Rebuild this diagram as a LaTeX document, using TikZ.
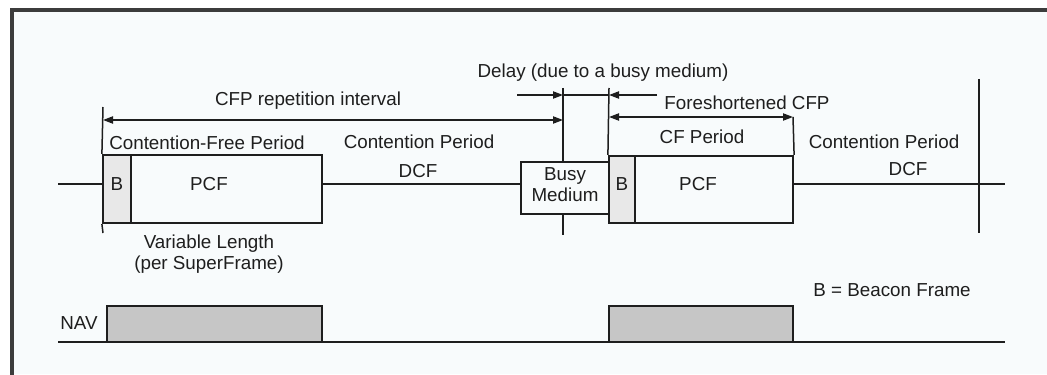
\documentclass[tikz,border=0pt]{standalone}
\usepackage{fontspec}
\setmainfont{Liberation Sans}
\usetikzlibrary{arrows.meta,positioning,fit}
\definecolor{ink}{HTML}{1E1E1E}
\definecolor{frameink}{HTML}{3C3C3C}
\definecolor{paper}{HTML}{F8FBFC}
\definecolor{beacon}{HTML}{E8E8E8}
\definecolor{navfill}{HTML}{C6C6C6}

\begin{document}
\begin{tikzpicture}[
    x=0.5pt,y=-0.5pt,
    >={Triangle[length=5pt,width=3.6pt]},
    font=\fontsize{9.4}{10.6}\selectfont,
    % --- frames on the time line ----------------------------------------
    slot/.style={draw=ink,line width=1.1pt,fill=paper,inner sep=0pt},
    bcn/.style={slot,fill=beacon},
    navbox/.style={draw=ink,line width=0.8pt,fill=navfill,inner sep=0pt},
    % --- lines and dimension arrows -------------------------------------
    tl/.style={draw=ink,line width=0.75pt},
    dim/.style={tl,<->},
    % --- labels ---------------------------------------------------------
    lbl/.style={text=ink,inner sep=0pt,align=center},
  ]

% =====================================================================
%  Canvas and outer frame (pixels of the reference, 1047 x 374)
% =====================================================================
\useasboundingbox (0,0) rectangle (1047,374);
\fill[white] (0,0) rectangle (1047,374);
\fill[paper] (12,10) rectangle (1047,374);
\draw[frameink,line width=1.6pt] (1060,10) -- (12,10) -- (12,390);

% ---- time line end points --------------------------------------------
\coordinate (w0) at (58,184);
\coordinate (w1) at (1005,184);

% =====================================================================
%  Frames: CFP, busy medium, foreshortened CFP
% =====================================================================
\node[bcn,fit={(103,155)(131,223)}] (b1) {};
\node[slot,fit={(131,155)(322,223)}] (pcf1) {};
\node[slot,fit={(521,162)(609,214)}] (busy) {};
\node[bcn,fit={(609,156)(635,223)}] (b2) {};
\node[slot,fit={(635,156)(793,223)}] (pcf2) {};

\node[lbl] at (117,184) {B};
\node[lbl] at (209,184) {PCF};
\node[lbl] (busytxt) at (565,185) {Busy\\Medium};
\node[lbl] at (622,184) {B};
\node[lbl] at (698,184) {PCF};

% ---- time line ---------------------------------------------------------
\draw[tl] (w0) -- (w0 -| b1.west);
\draw[tl] (pcf1.east |- w0) -- (busy.west |- w0);
\draw[tl] (pcf2.east |- w0) -- (w1);

% ---- vertical markers --------------------------------------------------
\coordinate (m0) at (103,107);
\coordinate (m1) at (103,233);
\draw[tl] (m0) -- (b1.north west);
\draw[tl] (b1.south west) -- (m1);

\coordinate (d0) at (563,88);
\coordinate (d1) at (563,235);
\draw[tl] (d0) -- (d0 |- busy.north);
\draw[tl] (d1 |- busy.south) -- (d1);

\coordinate (e0) at (609,88);
\draw[tl] (e0) -- (b2.north west);

\coordinate (f1) at (793,117);
\draw[tl] (f1) -- (pcf2.north east);

\coordinate (s0) at (979,79);
\coordinate (s1) at (979,233);
\draw[tl] (s0) -- (s1);

% =====================================================================
%  Intervals
% =====================================================================
\coordinate (rep0) at (103,120);
\coordinate (rep1) at (563,120);
\draw[dim] (rep0) -- (rep1);
\node[lbl] at (308,101) {CFP repetition interval};

\coordinate (dl0) at (517,95);
\coordinate (dl1) at (563,95);
\coordinate (dl2) at (609,95);
\coordinate (dl3) at (657,95);
\draw[tl,->] (dl0) -- (dl1);
\draw[tl] (dl1) -- (dl2);
\draw[tl,->] (dl3) -- (dl2);
\node[lbl] at (603,73) {Delay (due to a busy medium)};

\coordinate (fs0) at (609,117);
\draw[dim] (fs0) -- (f1);
\node[lbl] at (747,103) {Foreshortened CFP};

% ---- period labels -----------------------------------------------------
\node[lbl] at (207,143) {Contention-Free Period};
\node[lbl] at (419,142) {Contention Period};
\node[lbl] at (418,171) {DCF};
\node[lbl] at (702,137) {CF Period};
\node[lbl] at (884,142) {Contention Period};
\node[lbl] at (908,169) {DCF};
\node[lbl] at (209,254) {Variable Length\\(per SuperFrame)};
\node[lbl] at (892,290) {B = Beacon Frame};

% =====================================================================
%  NAV line
% =====================================================================
\coordinate (n0) at (58,342);
\coordinate (n1) at (1005,342);
\draw[tl] (n0) -- (n1);
\node[navbox,fit={(107,306)(322,342)}] (nav1) {};
\node[navbox,fit={(609,306)(793,342)}] (nav2) {};
\node[lbl] at (79,323) {NAV};

\end{tikzpicture}
\end{document}
